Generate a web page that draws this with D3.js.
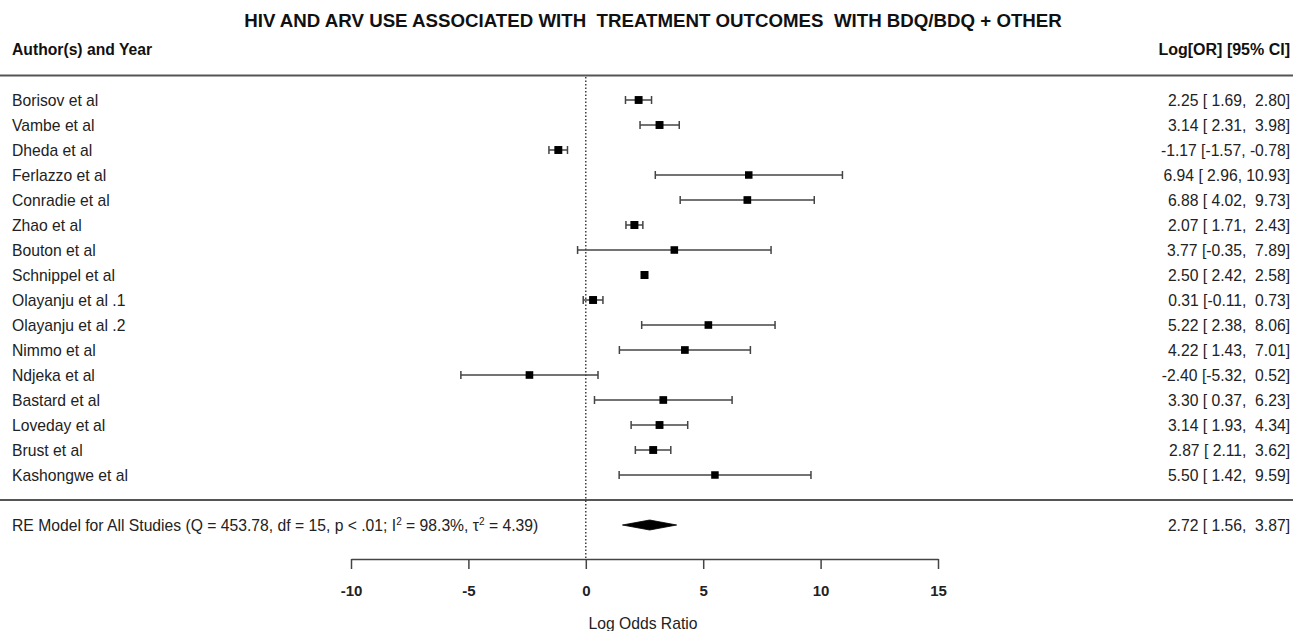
<!DOCTYPE html>
<html><head><meta charset="utf-8">
<script src="https://cdn.jsdelivr.net/npm/d3@7"></script>
<style>body{margin:0;background:#fff}svg{display:block;font-family:"Liberation Sans",Arial,sans-serif}text{white-space:pre}</style>
</head><body>
<svg id="c" width="1293" height="631"></svg>
<script>
const studies = ["Borisov et al","Vambe et al","Dheda et al","Ferlazzo et al","Conradie et al","Zhao et al","Bouton et al","Schnippel et al","Olayanju et al .1","Olayanju et al .2","Nimmo et al","Ndjeka et al","Bastard et al","Loveday et al","Brust et al","Kashongwe et al"];
const est   = [2.25,3.14,-1.17,6.94,6.88,2.07,3.77,2.50,0.31,5.22,4.22,-2.40,3.30,3.14,2.87,5.50];
const lower = [1.69,2.31,-1.57,2.96,4.02,1.71,-0.35,2.42,-0.11,2.38,1.43,-5.32,0.37,1.93,2.11,1.42];
const upper = [2.80,3.98,-0.78,10.93,9.73,2.43,7.89,2.58,0.73,8.06,7.01,0.52,6.23,4.34,3.62,9.59];
const weights = [6.4,6.5,6.5,5.8,6.1,6.6,5.9,6.6,6.5,6.0,6.1,6.0,6.1,6.4,6.4,5.8];
const summary = {est:2.72, lower:1.56, upper:3.87};
const ticks = [-10,-5,0,5,10,15];
const title = "HIV AND ARV USE ASSOCIATED WITH  TREATMENT OUTCOMES  WITH BDQ/BDQ + OTHER";

const FS = 15.7;
const svg = d3.select("#c");
const x = d3.scaleLinear().domain([-10,15]).range([351,938]);
const y = d3.scaleLinear().domain([0,15]).range([100,475]);
const sz = d3.scaleSqrt().domain([0,6.6]).range([0,8]);
const fmt = v => d3.format(".2f")(v).replace("−","-");
const pad = (s,n) => s.length<n ? " ".repeat(n-s.length)+s : s;

svg.append("text").attr("x",653).attr("y",27).attr("text-anchor","middle")
  .attr("font-weight","bold").attr("font-size",18.7).attr("fill","#111").text(title);
svg.append("text").attr("x",12).attr("y",55).attr("font-weight","bold").attr("font-size",FS).attr("fill","#111").text("Author(s) and Year");
svg.append("text").attr("x",1290).attr("y",55).attr("text-anchor","end").attr("font-weight","bold").attr("font-size",16).attr("fill","#111").text("Log[OR] [95% CI]");

svg.append("line").attr("x1",0).attr("x2",1293).attr("y1",75.5).attr("y2",75.5).attr("stroke","#555").attr("stroke-width",2);
svg.append("line").attr("x1",0).attr("x2",1293).attr("y1",500).attr("y2",500).attr("stroke","#555").attr("stroke-width",2);

svg.append("line").attr("x1",x(0)).attr("x2",x(0)).attr("y1",77).attr("y2",559)
  .attr("stroke","#222").attr("stroke-width",1.3).attr("stroke-dasharray","1.5,2");

const g = svg.append("g");
studies.forEach((s,i)=>{
  const yy = y(i);
  g.append("text").attr("x",12).attr("y",yy+5.5).attr("font-size",FS).attr("fill","#222").text(s);
  g.append("text").attr("x",1290).attr("y",yy+5.5).attr("text-anchor","end").attr("font-size",FS).attr("fill","#222")
   .text(`${fmt(est[i])} [${pad(fmt(lower[i]),5)}, ${pad(fmt(upper[i]),5)}]`);
  g.append("line").attr("x1",x(lower[i])).attr("x2",x(upper[i])).attr("y1",yy).attr("y2",yy).attr("stroke","#444").attr("stroke-width",1.5);
  [lower[i],upper[i]].forEach(v=>g.append("line").attr("x1",x(v)).attr("x2",x(v)).attr("y1",yy-4).attr("y2",yy+4).attr("stroke","#444").attr("stroke-width",1.5));
  const w = sz(weights[i]);
  g.append("rect").attr("x",x(est[i])-w/2).attr("y",yy-w/2).attr("width",w).attr("height",w).attr("fill","#000");
});

const ys = 525;
svg.append("path").attr("d",`M${x(summary.lower)},${ys} L${x(summary.est)},${ys-5} L${x(summary.upper)},${ys} L${x(summary.est)},${ys+5} Z`).attr("fill","#000").attr("stroke","#000").attr("stroke-width",0.8);
const st = svg.append("text").attr("x",12).attr("y",ys+5.5).attr("font-size",FS).attr("fill","#222");
st.append("tspan").text("RE Model for All Studies (Q = 453.78, df = 15, p < .01; I");
st.append("tspan").attr("dy",-6).attr("font-size",10).text("2");
st.append("tspan").attr("dy",6).text(" = 98.3%, τ");
st.append("tspan").attr("dy",-6).attr("font-size",10).text("2");
st.append("tspan").attr("dy",6).text(" = 4.39)");
svg.append("text").attr("x",1290).attr("y",ys+5.5).attr("text-anchor","end").attr("font-size",FS).attr("fill","#222")
  .text(`${fmt(summary.est)} [${pad(fmt(summary.lower),5)}, ${pad(fmt(summary.upper),5)}]`);

const ax = svg.append("g").attr("transform","translate(0,559)")
  .call(d3.axisBottom(x).tickValues(ticks).tickSize(10).tickPadding(16).tickSizeOuter(0).tickFormat(d=>String(d)));
ax.select(".domain").attr("stroke","#444").attr("stroke-width",1.5);
ax.selectAll(".tick line").attr("stroke","#444").attr("stroke-width",1.5);
ax.selectAll(".tick text").attr("font-size",15).attr("font-weight","bold").attr("fill","#222").attr("font-family","Liberation Sans, Arial, sans-serif");
svg.append("text").attr("x",643).attr("y",629).attr("text-anchor","middle").attr("font-size",FS).attr("fill","#222").text("Log Odds Ratio");
</script>
</body></html>
